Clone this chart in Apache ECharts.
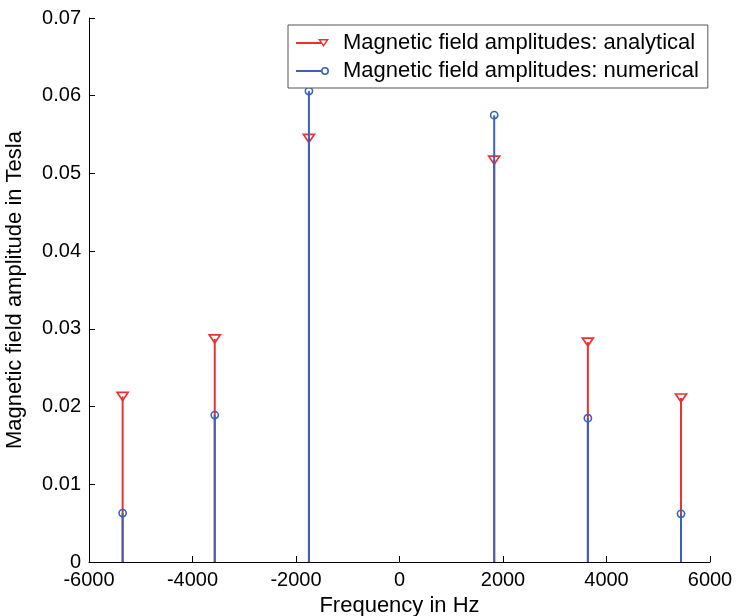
<!DOCTYPE html>
<html>
<head>
<meta charset="utf-8">
<script src="https://cdn.jsdelivr.net/npm/echarts@6/dist/echarts.min.js"></script>
<style>
html,body{margin:0;padding:0;background:#fff;overflow:hidden;}
#chart{position:absolute;left:0;top:0;width:736px;height:616px;}
</style>
</head>
<body>
<div id="chart"></div>
<script>
// ---- data ----
const frequencies = [-5350, -3570, -1750, 1830, 3640, 5440];
const analyticalAmps = [0.0213, 0.0287, 0.0545, 0.0517, 0.0283, 0.0211];
const numericalAmps = [0.0063, 0.0189, 0.0606, 0.0575, 0.0185, 0.0062];
const seriesNames = ['Magnetic field amplitudes: analytical', 'Magnetic field amplitudes: numerical'];
const xTicks = {min: -6000, max: 6000, step: 2000};
const yTicks = {min: 0, max: 0.07, step: 0.01};

const RED = '#ee3030';
const BLUE = '#3a62bc';
const FONT = 'Liberation Sans, Arial, Helvetica, sans-serif';

function stemRenderer(marker, color) {
  return function (params, api) {
    const x = api.value(0), y = api.value(1);
    const p0 = api.coord([x, 0]);
    const p1 = api.coord([x, y]);
    const children = [{
      type: 'line',
      shape: {x1: p0[0], y1: p0[1], x2: p1[0], y2: p1[1]},
      style: {stroke: color, lineWidth: 2}
    }];
    if (marker === 'tri') {
      const cx = p1[0], cy = p1[1];
      children.push({
        type: 'polygon',
        shape: {points: [[cx - 5.5, cy - 4], [cx + 5.5, cy - 4], [cx, cy + 4]]},
        style: {stroke: color, fill: 'none', lineWidth: 1.7}
      });
    } else {
      children.push({
        type: 'circle',
        shape: {cx: p1[0], cy: p1[1], r: 3.6},
        style: {stroke: color, fill: 'none', lineWidth: 1.6}
      });
    }
    return {type: 'group', children: children};
  };
}

const triIcon = 'path://M0 4 L25 4 L25 6 L0 6 Z M22 1 L33 1 L27.5 9 Z M24.8 2.6 L27.5 6.6 L30.2 2.6 Z';
const circIcon = 'path://M0 4 L26 4 L26 6 L0 6 Z M25 5 A4 4 0 1 1 33 5 A4 4 0 1 1 25 5 Z M26.6 5 A2.4 2.4 0 1 0 31.4 5 A2.4 2.4 0 1 0 26.6 5 Z';

const chart = echarts.init(document.getElementById('chart'), null, {renderer: 'canvas', width: 736, height: 616});
chart.setOption({
  animation: false,
  backgroundColor: '#fff',
  textStyle: {fontFamily: FONT},
  grid: {left: 89, top: 18, width: 621, height: 544, containLabel: false, outerBoundsMode: 'none'},
  legend: {
    left: 288, top: 25,
    orient: 'vertical',
    padding: [6, 9, 5, 8],
    itemGap: 4,
    itemWidth: 33, itemHeight: 8,
    borderColor: '#555', borderWidth: 1,
    backgroundColor: '#fff',
    textStyle: {fontFamily: FONT, fontSize: 22, color: '#000', lineHeight: 24, padding: [0, 0, 0, 9]},
    data: [
      {name: seriesNames[0], icon: triIcon, itemStyle: {color: RED}},
      {name: seriesNames[1], icon: circIcon, itemStyle: {color: BLUE}}
    ]
  },
  xAxis: {
    type: 'value',
    min: xTicks.min, max: xTicks.max, interval: xTicks.step,
    name: 'Frequency in Hz', nameLocation: 'middle', nameGap: 25,
    nameTextStyle: {fontFamily: FONT, fontSize: 22, color: '#000'},
    axisLine: {show: true, onZero: false, lineStyle: {color: '#000', width: 1}},
    axisTick: {show: true, inside: true, length: 6, lineStyle: {color: '#000'}},
    axisLabel: {fontFamily: FONT, fontSize: 20, color: '#000', margin: 8, formatter: v => String(v)},
    splitLine: {show: false}
  },
  yAxis: {
    type: 'value',
    min: yTicks.min, max: yTicks.max, interval: yTicks.step,
    name: 'Magnetic field amplitude in Tesla', nameLocation: 'middle', nameGap: 63,
    nameTextStyle: {fontFamily: FONT, fontSize: 22, color: '#000'},
    axisLine: {show: true, onZero: false, lineStyle: {color: '#000', width: 1}},
    axisTick: {show: true, inside: true, length: 6, lineStyle: {color: '#000'}},
    axisLabel: {fontFamily: FONT, fontSize: 20, color: '#000', margin: 8,
      formatter: v => (Math.round(v * 100) / 100).toString()},
    splitLine: {show: false}
  },
  series: [
    {
      name: seriesNames[0], type: 'custom', z: 2,
      itemStyle: {color: RED},
      renderItem: stemRenderer('tri', RED),
      encode: {x: 0, y: 1},
      data: frequencies.map((f, i) => [f, analyticalAmps[i]])
    },
    {
      name: seriesNames[1], type: 'custom', z: 3,
      itemStyle: {color: BLUE},
      renderItem: stemRenderer('circ', BLUE),
      encode: {x: 0, y: 1},
      data: frequencies.map((f, i) => [f, numericalAmps[i]])
    }
  ]
});
</script>
</body>
</html>
